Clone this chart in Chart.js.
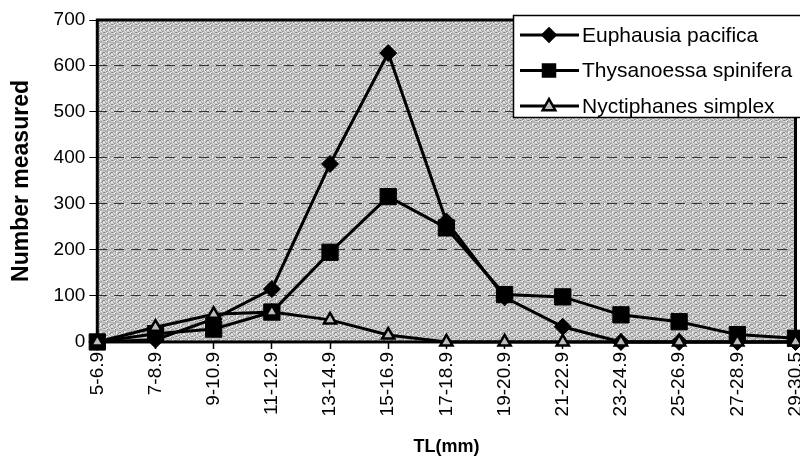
<!DOCTYPE html>
<html>
<head>
<meta charset="utf-8">
<script src="https://cdn.jsdelivr.net/npm/chart.js@4/dist/chart.umd.min.js"></script>
<style>
  html, body { margin: 0; padding: 0; background: #fff; overflow: hidden; }
  #wrap { position: relative; width: 808px; height: 464px; }
</style>
</head>
<body>
<div id="wrap"><canvas id="krillChart" width="808" height="464"></canvas></div>
<script>
// ===============================
// Data
// ===============================
const sizeClasses = ['5-6.9', '7-8.9', '9-10.9', '11-12.9', '13-14.9', '15-16.9', '17-18.9',
  '19-20.9', '21-22.9', '23-24.9', '25-26.9', '27-28.9', '29-30.5'];
const euphausia = [0, 5, 50, 115, 387, 628, 262, 97, 33, 0, 0, 0, 0];
const thysanoessa = [0, 18, 28, 65, 195, 316, 248, 103, 98, 59, 44, 16, 8];
const nyctiphanes = [0, 32, 60, 65, 48, 15, 0, 0, 0, 0, 0, 0, 0];
const yTicks = [0, 100, 200, 300, 400, 500, 600, 700];

const FONT = "'Liberation Sans', Arial, sans-serif";

// stippled grey plot background (fixed dither, 8x8)
function makePattern() {
  const c = document.createElement('canvas');
  c.width = 8; c.height = 8;
  const g = c.getContext('2d');
  const shades = ['#8a8a8a', '#c8c8c8', '#eeeeee', '#a6a6a6', '#dadada', '#b6b6b6', '#cfcfcf'];
  for (let y = 0; y < 8; y++) {
    for (let x = 0; x < 8; x++) {
      g.fillStyle = shades[(x * 3 + y * 5 + x * y * 2 + (y % 3)) % shades.length];
      g.fillRect(x, y, 1, 1);
    }
  }
  return g.createPattern(c, 'repeat');
}

// marker drawing for the legend
function drawMarker(ctx, style, x, y, r, fill) {
  ctx.beginPath();
  if (style === 'rectRot') {
    ctx.moveTo(x, y - r); ctx.lineTo(x + r, y); ctx.lineTo(x, y + r); ctx.lineTo(x - r, y);
  } else if (style === 'rect') {
    ctx.rect(x - r, y - r, r * 2, r * 2);
  } else {
    ctx.moveTo(x, y - r); ctx.lineTo(x + r * 0.9, y + r * 0.6); ctx.lineTo(x - r * 0.9, y + r * 0.6);
  }
  ctx.closePath();
  ctx.fillStyle = fill;
  ctx.fill();
  ctx.lineWidth = 2.5;
  ctx.strokeStyle = '#000';
  ctx.stroke();
}

const plotFrame = {
  id: 'plotFrame',
  beforeDraw(chart) {
    const { ctx, chartArea: a } = chart;
    ctx.save();
    ctx.fillStyle = makePattern();
    ctx.fillRect(a.left, a.top, a.right - a.left, a.bottom - a.top);
    ctx.restore();
  },
  beforeDatasetsDraw(chart) {
    const { ctx, chartArea: a } = chart;
    ctx.save();
    ctx.strokeStyle = '#000';
    ctx.lineWidth = 3;
    ctx.strokeRect(a.left, a.top, a.right - a.left, a.bottom - a.top);
    ctx.restore();
  },
  afterDraw(chart) {
    const ctx = chart.ctx;
    const bx = 513, by = 15, bw = 300, bh = 102;
    const sizes = [6.5, 6, 7];
    ctx.save();
    ctx.fillStyle = '#fff';
    ctx.fillRect(bx, by, bw, bh);
    ctx.strokeStyle = '#000';
    ctx.lineWidth = 1.5;
    ctx.strokeRect(bx + 0.5, by + 0.5, bw, bh);
    chart.data.datasets.forEach((ds, i) => {
      const y = by + 20 + i * 35.5;
      ctx.beginPath();
      ctx.moveTo(bx + 7, y); ctx.lineTo(bx + 66, y);
      ctx.lineWidth = 3; ctx.strokeStyle = '#000';
      ctx.stroke();
      drawMarker(ctx, ds.pointStyle, bx + 36, y, sizes[i], ds.pointBackgroundColor);
      ctx.fillStyle = '#000';
      ctx.font = '21px ' + FONT;
      ctx.textBaseline = 'middle';
      ctx.fillText(ds.label, bx + 69, y + 1);
    });
    ctx.restore();
  }
};

const ctx = document.getElementById('krillChart').getContext('2d');

new Chart(ctx, {
  type: 'line',
  data: {
    labels: sizeClasses,
    datasets: [{
      label: 'Euphausia pacifica',
      data: euphausia,
      borderColor: '#000',
      borderWidth: 3,
      pointStyle: 'rectRot',
      pointRadius: 8.5,
      pointBackgroundColor: '#000',
      pointBorderColor: '#000',
      pointBorderWidth: 1,
      tension: 0,
      clip: false,
      order: 3
    }, {
      label: 'Thysanoessa spinifera',
      data: thysanoessa,
      borderColor: '#000',
      borderWidth: 3,
      pointStyle: 'rect',
      pointRadius: 11.5,
      pointBackgroundColor: '#000',
      pointBorderColor: '#000',
      pointBorderWidth: 1,
      tension: 0,
      clip: false,
      order: 2
    }, {
      label: 'Nyctiphanes simplex',
      data: nyctiphanes,
      borderColor: '#000',
      borderWidth: 3,
      pointStyle: 'triangle',
      pointRadius: 7,
      pointBackgroundColor: '#bdbdbd',
      pointBorderColor: '#000',
      pointBorderWidth: 2.5,
      tension: 0,
      clip: false,
      order: 1
    }]
  },
  options: {
    responsive: false,
    animation: false,
    devicePixelRatio: 1,
    layout: { padding: { top: 20, left: 8, right: 10, bottom: 6 } },
    plugins: {
      legend: { display: false },
      tooltip: { enabled: false }
    },
    scales: {
      x: {
        offset: false,
        afterFit: (scale) => { scale.paddingRight = 0; scale.paddingLeft = 0; },
        grid: { drawOnChartArea: false, drawTicks: true, tickLength: 7, tickColor: '#000', tickWidth: 1.5 },
        border: { display: false },
        ticks: {
          color: '#000',
          font: { family: FONT, size: 19 },
          maxRotation: 90,
          minRotation: 90,
          autoSkip: false,
          padding: 3
        },
        title: {
          display: true,
          text: 'TL(mm)',
          color: '#000',
          font: { family: FONT, size: 18, weight: 'bold' },
          padding: { top: 17, bottom: 0 }
        }
      },
      y: {
        min: 0,
        max: 700,
        afterBuildTicks: (scale) => { scale.ticks = yTicks.map(v => ({ value: v })); },
        grid: { color: '#333', lineWidth: 1, drawTicks: true, tickLength: 8, tickColor: '#000', tickBorderDash: [] },
        border: { display: false, dash: [10, 7] },
        ticks: {
          color: '#000',
          font: { family: FONT, size: 19 },
          padding: 4
        },
        title: {
          display: true,
          text: 'Number measured',
          color: '#000',
          font: { family: FONT, size: 23, weight: 'bold' },
          padding: { top: 0, bottom: 14 }
        }
      }
    }
  },
  plugins: [plotFrame]
});
</script>
</body>
</html>
